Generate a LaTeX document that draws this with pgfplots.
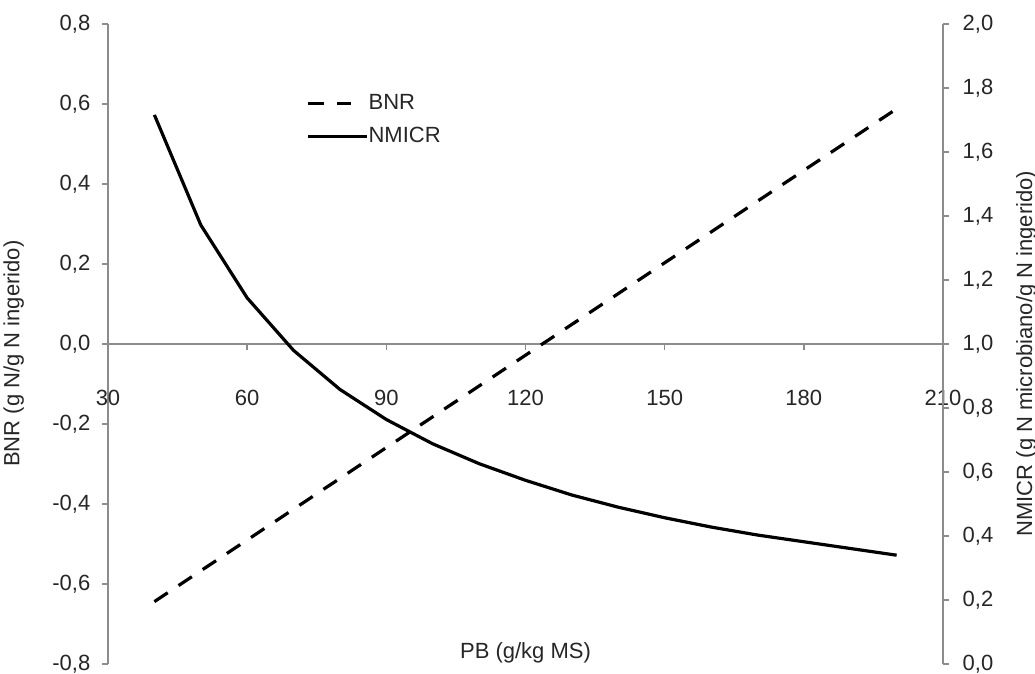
\documentclass[border=0pt]{standalone}
\usepackage{pgfplots}
\pgfplotsset{compat=1.18}
\usepackage{fontspec}
\setmainfont{Liberation Sans}
\definecolor{axgray}{HTML}{8C8C8C}
\definecolor{txt}{HTML}{262626}
\pgfplotstableread{
x y
40 -0.644
50 -0.567
60 -0.490
70 -0.413
80 -0.336
90 -0.259
100 -0.182
110 -0.105
120 -0.028
130 0.049
140 0.126
150 0.203
160 0.280
170 0.357
180 0.434
190 0.511
200 0.588
}\bnr
\pgfplotstableread{
x y
40 1.716
50 1.372
60 1.144
70 0.980
80 0.858
90 0.764
100 0.688
110 0.626
120 0.574
130 0.528
140 0.490
150 0.457
160 0.428
170 0.403
180 0.382
190 0.361
200 0.340
}\nmicr
\begin{document}
\fontsize{11}{13.2}\selectfont
\begin{tikzpicture}
\pgfplotsset{
 base/.style={
  scale only axis, width=417.5pt, height=320pt,
  xmin=30, xmax=210,
  axis line style={axgray, line width=0.7pt},
  every tick/.style={axgray, line width=0.7pt},
  major tick length=3pt,
  tick align=outside,
  tick label style={font=\fontsize{11}{13.2}\selectfont, text=txt},
  /pgf/number format/assume math mode=true,
  hide obscured x ticks=false, hide obscured y ticks=false,
  clip=false,
 }
}
\begin{axis}[base,
  ymin=-0.8, ymax=0.8,
  axis x line*=middle, axis y line*=left,
  xtick={30,60,90,120,150,180,210},
  ytick={-0.8,-0.6,-0.4,-0.2,0,0.2,0.4,0.6,0.8},
  yticklabel style={xshift=-2pt, /pgf/number format/use comma, /pgf/number format/fixed, /pgf/number format/fixed zerofill, /pgf/number format/precision=1},
  xticklabel style={anchor=base, yshift=-28pt},
  xlabel={PB (g/kg MS)},
  ylabel={BNR (g N/g N ingerido)},
  every axis x label/.style={at={(axis description cs:0.5,0.008)}, anchor=base, font=\fontsize{11}{13.2}\selectfont, text=txt},
  every axis y label/.style={at={(axis description cs:-0.106,0.485)}, rotate=90, anchor=base, font=\fontsize{11}{13.2}\selectfont, text=txt},
]
\addplot[black, line width=1.6pt, dash pattern=on 8pt off 6.5pt] table {\bnr};
\end{axis}
\begin{axis}[base,
  ymin=0, ymax=2,
  axis x line=none, axis y line*=right,
  ytick={0,0.2,0.4,0.6,0.8,1.0,1.2,1.4,1.6,1.8,2.0},
  yticklabel style={xshift=3pt, /pgf/number format/use comma, /pgf/number format/fixed, /pgf/number format/fixed zerofill, /pgf/number format/precision=1},
  ylabel={NMICR (g N microbiano/g N ingerido)},
  every axis y label/.style={at={(axis description cs:1.1066,0.485)}, rotate=90, anchor=base, font=\fontsize{11}{13.2}\selectfont, text=txt},
  legend style={at={(axis description cs:0.2371,0.85)}, anchor=west, draw=none, fill=none, inner sep=0pt, row sep=7.5pt, column sep=0pt,
    nodes={inner sep=0pt, font=\fontsize{11}{13.2}\selectfont, text=txt}},
  legend cell align=left,
]
\addlegendimage{legend image code/.code={\draw[black, line width=1.6pt, dash pattern=on 8pt off 6.5pt] (0pt,0pt) -- (21.5pt,0pt);}}
\addlegendentry{BNR}
\addplot[black, line width=1.6pt, legend image code/.code={\draw[black, line width=1.6pt] (0pt,0pt) -- (29.5pt,0pt);}] table {\nmicr};
\addlegendentry{NMICR}
\end{axis}
\pgfresetboundingbox
\path[use as bounding box] (-54pt,-5pt) rectangle (463.5pt,332pt);
\end{tikzpicture}
\end{document}
